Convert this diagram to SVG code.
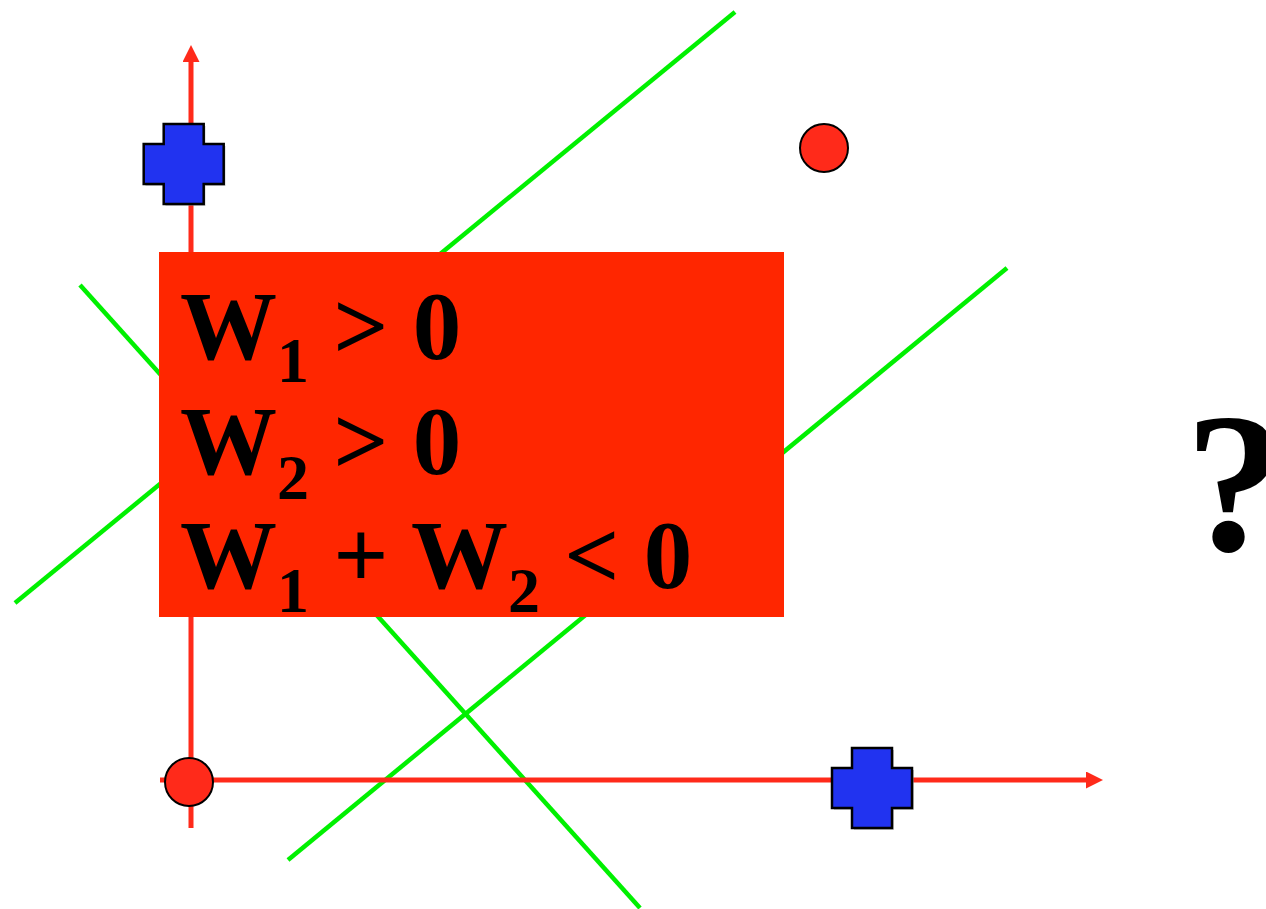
<svg xmlns="http://www.w3.org/2000/svg" width="1266" height="909" viewBox="0 0 1266 909">
<style>
.g{stroke:#00f000;stroke-width:4.5;fill:none}
.ax{stroke:#ff2a1a;stroke-width:5;fill:none}
.cross{fill:#2133f0;stroke:#000;stroke-width:2.5}
.shadow{fill:#999;opacity:0.5}
.dot{fill:#ff2a1a;stroke:#000;stroke-width:2}
.t{font-family:"Liberation Serif","Times New Roman",serif;font-weight:bold;fill:#000}
.sub{font-size:64px}
</style>
<defs>
<marker id="arr" viewBox="0 0 17 17" refX="0" refY="8.5" markerWidth="17" markerHeight="17" markerUnits="userSpaceOnUse" orient="auto">
<path d="M0,0 L17,8.5 L0,17 Z" fill="#ff2a1a"/>
</marker>
<path id="crossShape" d="M-20,-40 H20 V-20 H40 V20 H20 V40 H-20 V20 H-40 V-20 H-20 Z"/>
</defs>
<g id="connectors">
<line class="g" x1="735" y1="12" x2="15" y2="603"/>
<line class="g" x1="1007" y1="268" x2="288" y2="860"/>
<line class="g" x1="80" y1="285" x2="640" y2="908"/>
<line class="ax" x1="191" y1="828" x2="191" y2="62" marker-end="url(#arr)"/>
<line class="ax" x1="160" y1="780" x2="1086" y2="780" marker-end="url(#arr)"/>
</g>
<g id="box">
<rect x="159" y="252" width="625" height="365" fill="#ff2600"/>
<text class="t" font-size="97" x="180" y="359">W<tspan class="sub" dy="23">1</tspan><tspan dy="-23"> &gt; 0</tspan></text>
<text class="t" font-size="97" x="180" y="474">W<tspan class="sub" dy="25">2</tspan><tspan dy="-25"> &gt; 0</tspan></text>
<text class="t" font-size="97" x="180" y="588">W<tspan class="sub" dy="24">1</tspan><tspan dy="-24"> + W</tspan><tspan class="sub" dy="24">2</tspan><tspan dy="-24"> &lt; 0</tspan></text>
</g>
<g id="cross-top">
<use href="#crossShape" class="shadow" x="185.5" y="166"/>
<use href="#crossShape" class="cross" x="183.7" y="164"/>
</g>
<g id="cross-bottom">
<use href="#crossShape" class="shadow" x="874" y="790"/>
<use href="#crossShape" class="cross" x="872" y="788"/>
</g>
<g id="circle-top">
<circle class="dot" cx="824" cy="148" r="24"/>
</g>
<g id="circle-bottom">
<circle class="dot" cx="189" cy="782" r="24"/>
</g>
<g id="question">
<text class="t" font-size="200" x="1185" y="550">?</text>
</g>
</svg>
